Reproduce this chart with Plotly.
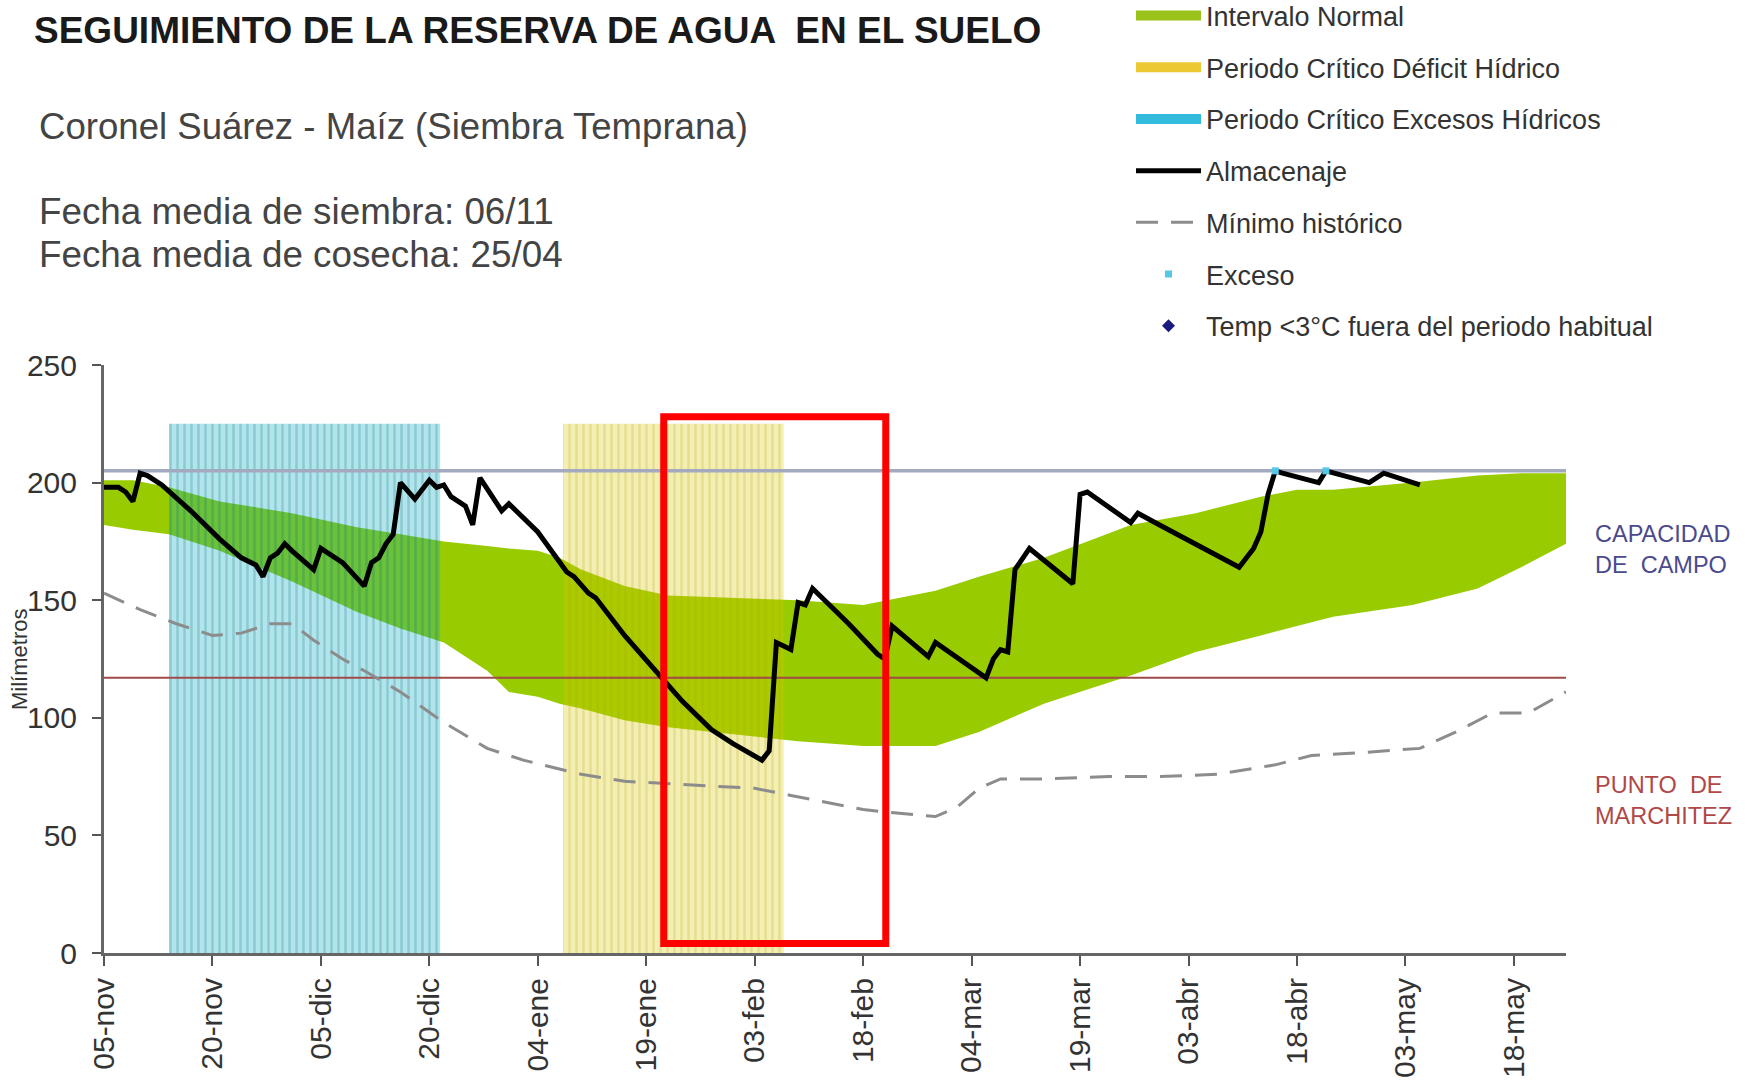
import plotly.graph_objects as go

# ---------------- data ----------------
ALMACENAJE_FECHAS = [
    "2015-11-05", "2015-11-07", "2015-11-08", "2015-11-09", "2015-11-10", "2015-11-11", "2015-11-13",
    "2015-11-17", "2015-11-21", "2015-11-24", "2015-11-26", "2015-11-27", "2015-11-28", "2015-11-29",
    "2015-11-30", "2015-12-01", "2015-12-04", "2015-12-05", "2015-12-08", "2015-12-11", "2015-12-12",
    "2015-12-13", "2015-12-14", "2015-12-15", "2015-12-16", "2015-12-18", "2015-12-20", "2015-12-21",
    "2015-12-22", "2015-12-23", "2015-12-25", "2015-12-26", "2015-12-27", "2015-12-30", "2015-12-31",
    "2016-01-02", "2016-01-04", "2016-01-08", "2016-01-09", "2016-01-11", "2016-01-12", "2016-01-16",
    "2016-01-20", "2016-01-24", "2016-01-28", "2016-01-31", "2016-02-04", "2016-02-05", "2016-02-06",
    "2016-02-08", "2016-02-09", "2016-02-10", "2016-02-11", "2016-02-16", "2016-02-20", "2016-02-21",
    "2016-02-22", "2016-02-27", "2016-02-28", "2016-03-06", "2016-03-07", "2016-03-08", "2016-03-09",
    "2016-03-10", "2016-03-12", "2016-03-18", "2016-03-19", "2016-03-20", "2016-03-26", "2016-03-27",
    "2016-03-30", "2016-04-10", "2016-04-12", "2016-04-13", "2016-04-14", "2016-04-15", "2016-04-16",
    "2016-04-21", "2016-04-22", "2016-04-28", "2016-04-30", "2016-05-05"]
ALMACENAJE_MM = [
    198, 198, 196, 192, 204, 203, 199, 188, 176, 168,
    165, 160, 168, 170, 174, 171, 163, 172, 166, 156,
    166, 168, 174, 178, 200, 193, 201, 198, 199, 194,
    190, 182, 202, 188, 191, 185, 179, 162, 160, 153,
    151, 135, 121, 107, 95, 89, 82, 86, 132, 129,
    149, 148, 155, 140, 127, 125, 139, 126, 132, 117,
    125, 129, 128, 163, 172, 157, 195, 196, 183, 187,
    182, 164, 172, 179, 195, 205, 204, 200, 205, 200,
    204, 199]

BANDA_FECHAS = [
    "2015-11-05", "2015-11-09", "2015-11-14", "2015-11-21", "2015-12-01", "2015-12-10", "2015-12-16",
    "2015-12-22", "2015-12-28", "2015-12-31", "2016-01-04", "2016-01-07", "2016-01-10", "2016-01-16",
    "2016-01-22", "2016-01-31", "2016-02-09", "2016-02-18", "2016-02-25", "2016-02-28", "2016-03-05",
    "2016-03-14", "2016-03-20", "2016-03-26", "2016-04-04", "2016-04-08", "2016-04-13", "2016-04-18",
    "2016-04-23", "2016-05-04", "2016-05-13", "2016-05-19", "2016-05-25 05:00"]
BANDA_SUPERIOR = [201, 201, 198, 192, 187, 181, 178, 175, 173, 172,
                  171, 168, 163, 156, 152, 151, 150, 148, 152, 154,
                  160, 168, 175, 182, 187, 190, 194, 197, 197, 200,
                  203, 204, 204]
BANDA_INFERIOR = [182, 180, 178, 171, 158, 145, 138, 132, 120, 111,
                  109, 106, 104, 99, 96, 93, 90, 88, 88, 88,
                  94, 106, 112, 118, 128, 131, 135, 139, 143, 148,
                  155, 164, 174]

MINIMO_FECHAS = [
    "2015-11-05", "2015-11-10", "2015-11-15", "2015-11-20", "2015-11-24", "2015-11-28", "2015-12-01",
    "2015-12-04", "2015-12-08", "2015-12-11", "2015-12-16", "2015-12-22", "2015-12-28", "2016-01-02",
    "2016-01-06", "2016-01-10", "2016-01-16", "2016-01-22", "2016-01-29", "2016-02-03", "2016-02-08",
    "2016-02-13", "2016-02-18", "2016-02-21", "2016-02-28", "2016-03-02", "2016-03-05", "2016-03-08",
    "2016-03-14", "2016-03-23", "2016-03-30", "2016-04-07", "2016-04-15", "2016-04-20", "2016-04-26",
    "2016-05-05", "2016-05-10", "2016-05-15", "2016-05-20", "2016-05-25 05:00"]
MINIMO_MM = [153, 146, 140, 135, 136, 140, 140, 133, 125, 120,
             111, 98, 87, 82, 79, 76, 73, 72, 71, 70,
             67, 64, 61, 60, 58, 62, 70, 74, 74, 75,
             75, 76, 80, 84, 85, 87, 94, 102, 102, 111]

EXCESO_FECHAS = ["2016-04-15", "2016-04-22"]
EXCESO_MM = [205, 205]

CAPACIDAD_CAMPO = 205
PUNTO_MARCHITEZ = 117
PERIODO_EXCESOS = ["2015-11-14", "2015-12-21 12:00"]
PERIODO_DEFICIT = ["2016-01-07 12:00", "2016-02-07"]
PERIODO_TOPE = 225

X_RANGO = ["2015-11-05", "2016-05-25 05:00"]
Y_RANGO = [0, 250]
Y_TICKS = [0, 50, 100, 150, 200, 250]
X_TICKS = ["2015-11-05", "2015-11-20", "2015-12-05", "2015-12-20", "2016-01-04", "2016-01-19",
           "2016-02-03", "2016-02-18", "2016-03-04", "2016-03-19", "2016-04-03", "2016-04-18",
           "2016-05-03", "2016-05-18"]
X_ETIQUETAS = ["05-nov", "20-nov", "05-dic", "20-dic", "04-ene", "19-ene", "03-feb", "18-feb",
               "04-mar", "19-mar", "03-abr", "18-abr", "03-may", "18-may"]

RECUADRO_X = ["2016-01-21 10:00", "2016-02-21 03:00"]
RECUADRO_Y = [4, 228]

# ---------------- layout helpers ----------------
FIG_W, FIG_H = 1745, 1081
M_L, M_R, M_T, M_B = 104, 179, 365, 128
PLOT_W = FIG_W - M_L - M_R
PLOT_H = FIG_H - M_T - M_B
FONT = "Liberation Sans, Arial, sans-serif"


def xp(px):
    return (px - M_L) / PLOT_W


def yp(py):
    return (FIG_H - M_B - py) / PLOT_H


GREEN = "#99cc00"

fig = go.Figure()

# Intervalo normal (band)
fig.add_trace(go.Scatter(x=BANDA_FECHAS, y=BANDA_INFERIOR, mode="lines",
                         line=dict(width=0, color=GREEN), showlegend=False, hoverinfo="skip"))
fig.add_trace(go.Scatter(x=BANDA_FECHAS, y=BANDA_SUPERIOR, mode="lines", fill="tonexty",
                         fillcolor=GREEN, line=dict(width=0, color=GREEN),
                         showlegend=False, hoverinfo="skip"))


def periodo(fechas, bg, fg):
    xs = [fechas[0], fechas[1], fechas[1], fechas[0], fechas[0]]
    ys = [0, 0, PERIODO_TOPE, PERIODO_TOPE, 0]
    return go.Scatter(x=xs, y=ys, mode="lines", fill="toself", fillcolor=bg,
                      line=dict(width=0, color=bg),
                      fillpattern=dict(shape="|", size=7, solidity=0.35, bgcolor=bg,
                                       fgcolor=fg, fgopacity=1, fillmode="replace"),
                      showlegend=False, hoverinfo="skip")


fig.add_trace(periodo(PERIODO_EXCESOS, "rgba(0,170,190,0.30)", "rgba(0,105,125,0.22)"))
fig.add_trace(periodo(PERIODO_DEFICIT, "rgba(215,200,0,0.30)", "rgba(170,160,0,0.20)"))

# reference lines
fig.add_trace(go.Scatter(x=X_RANGO, y=[CAPACIDAD_CAMPO, CAPACIDAD_CAMPO], mode="lines",
                         line=dict(color="#a3a9bf", width=3.5), showlegend=False, hoverinfo="skip"))
fig.add_trace(go.Scatter(x=X_RANGO, y=[PUNTO_MARCHITEZ, PUNTO_MARCHITEZ], mode="lines",
                         line=dict(color="#a04a4a", width=2), showlegend=False, hoverinfo="skip"))

# minimo historico
fig.add_trace(go.Scatter(x=MINIMO_FECHAS, y=MINIMO_MM, mode="lines", name="Mínimo histórico",
                         line=dict(color="#8c8c8c", width=3, dash="22px,13px"),
                         legendgroup="g5", legendrank=5))
# almacenaje
fig.add_trace(go.Scatter(x=ALMACENAJE_FECHAS, y=ALMACENAJE_MM, mode="lines", name="Almacenaje",
                         line=dict(color="#000000", width=5), legendgroup="g4", legendrank=4))
# exceso
fig.add_trace(go.Scatter(x=EXCESO_FECHAS, y=EXCESO_MM, mode="markers", name="Exceso",
                         marker=dict(symbol="square", size=7, color="#55c8e8"),
                         legendgroup="g6", legendrank=6))

# legend-only entries
fig.add_trace(go.Scatter(x=[None], y=[None], mode="lines", name="Intervalo Normal",
                         line=dict(color="#99c21a", width=10), legendgroup="g1", legendrank=1))
fig.add_trace(go.Scatter(x=[None], y=[None], mode="lines", name="Periodo Crítico Déficit Hídrico",
                         line=dict(color="#ecc832", width=10), legendgroup="g2", legendrank=2))
fig.add_trace(go.Scatter(x=[None], y=[None], mode="lines", name="Periodo Crítico Excesos Hídricos",
                         line=dict(color="#33bbdd", width=10), legendgroup="g3", legendrank=3))
fig.add_trace(go.Scatter(x=[None], y=[None], mode="markers", name="Temp <3°C fuera del periodo habitual",
                         marker=dict(symbol="diamond", size=10, color="#1b1b7d"),
                         legendgroup="g7", legendrank=7))

# highlight box
fig.add_shape(type="rect", xref="x", yref="y", x0=RECUADRO_X[0], x1=RECUADRO_X[1],
              y0=RECUADRO_Y[0], y1=RECUADRO_Y[1], line=dict(color="#ff0000", width=7),
              fillcolor="rgba(0,0,0,0)", layer="above")

annotations = [
    dict(text="<b>SEGUIMIENTO DE LA RESERVA DE AGUA  EN EL SUELO</b>", x=xp(32), y=yp(30),
         font=dict(size=37, color="#1a1a1a")),
    dict(text="Coronel Suárez - Maíz (Siembra Temprana)", x=xp(37), y=yp(126),
         font=dict(size=36.6, color="#444444")),
    dict(text="Fecha media de siembra: 06/11", x=xp(37), y=yp(211),
         font=dict(size=36.8, color="#444444")),
    dict(text="Fecha media de cosecha: 25/04", x=xp(37), y=yp(254),
         font=dict(size=36.8, color="#444444")),
    dict(text="CAPACIDAD<br>DE  CAMPO", x=xp(1593), y=yp(549),
         font=dict(size=23.5, color="#4a4a8c")),
    dict(text="PUNTO  DE<br>MARCHITEZ", x=xp(1593), y=yp(800),
         font=dict(size=23.5, color="#b04848")),
]
for a in annotations:
    a.update(xref="paper", yref="paper", xanchor="left", yanchor="middle", showarrow=False,
             align="left")
annotations.append(dict(text="Milímetros", x=xp(19), y=yp(660), xref="paper", yref="paper",
                        textangle=-90, showarrow=False, xanchor="center", yanchor="middle",
                        font=dict(size=22, color="#333333")))

fig.update_layout(
    width=FIG_W, height=FIG_H,
    margin=dict(l=M_L, r=M_R, t=M_T, b=M_B, autoexpand=False),
    paper_bgcolor="white", plot_bgcolor="white",
    font=dict(family=FONT, color="#333333"),
    annotations=annotations,
    showlegend=True,
    legend=dict(x=xp(1131), y=yp(-8.5), xanchor="left", yanchor="top",
                bgcolor="rgba(0,0,0,0)", borderwidth=0, itemwidth=65,
                traceorder="grouped", tracegroupgap=13.6,
                font=dict(size=27, color="#333333", family=FONT)),
    xaxis=dict(type="date", range=X_RANGO, tickvals=X_TICKS, ticktext=X_ETIQUETAS,
               tickangle=-90, showgrid=False, zeroline=False, showline=True,
               linecolor="#666666", linewidth=3, ticks="outside", ticklen=10, tickwidth=2,
               tickcolor="#555555", tickfont=dict(size=30, color="#333333", family=FONT)),
    yaxis=dict(range=Y_RANGO, tickvals=Y_TICKS, showgrid=False, zeroline=False, showline=True,
               linecolor="#666666", linewidth=3, ticks="outside", ticklen=9, tickwidth=2,
               tickcolor="#555555", ticklabelstandoff=9,
               tickfont=dict(size=30, color="#333333", family=FONT)),
)

fig.write_html("out.html", config={"displayModeBar": False},
               post_script="document.body.style.margin='0';document.body.style.overflow='hidden';")
